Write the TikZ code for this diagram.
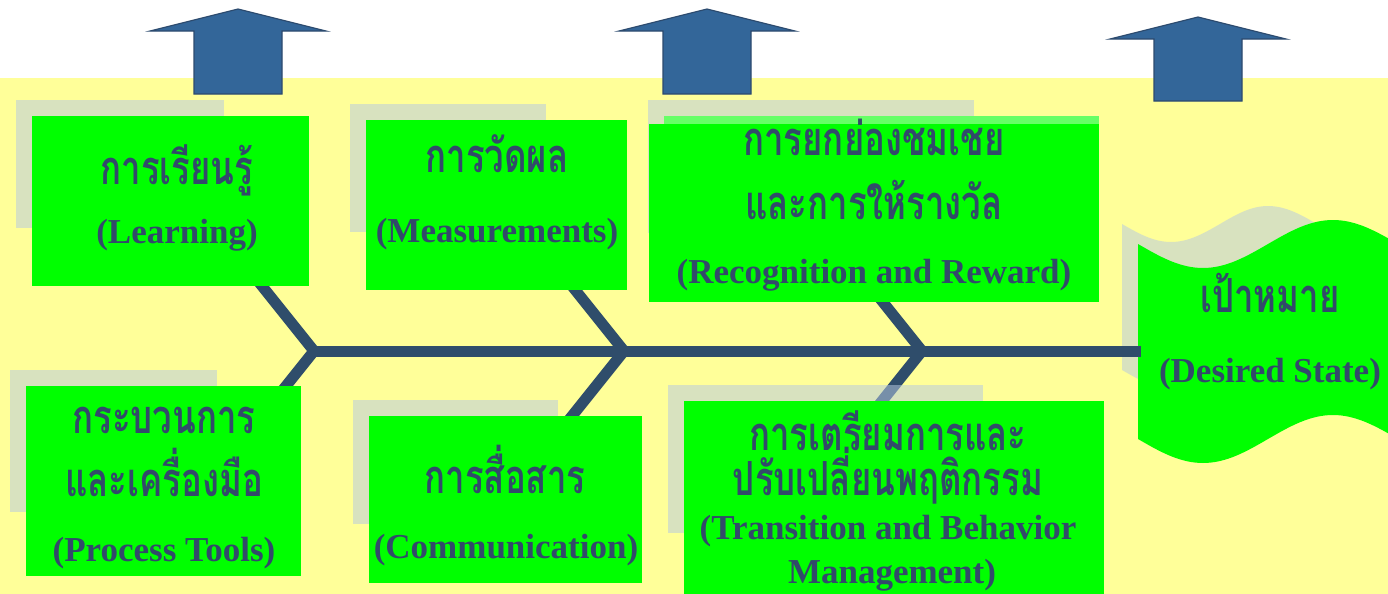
\documentclass[tikz,border=0pt]{standalone}
\usepackage{fontspec}
\setmainfont{Liberation Serif}
\newfontfamily\thaifont[Script=Thai, FakeStretch=0.74]{Loma}

\definecolor{bandyellow}{RGB}{255,255,153}
\definecolor{boxgreen}{RGB}{0,255,0}
\definecolor{stripgreen}{RGB}{102,255,102}
\definecolor{bonecolor}{RGB}{47,77,107}
\definecolor{labelblue}{RGB}{50,74,106}
\definecolor{arrowfill}{RGB}{51,102,153}
\definecolor{arrowline}{RGB}{44,74,110}
\definecolor{shadowgrey}{RGB}{183,202,225}

\tikzset{
    uparrow/.style={fill=arrowfill, draw=arrowline, line width=0.6pt, line join=miter},
    bone/.style={draw=bonecolor, line width=5.5pt, line join=miter},
    shadowbox/.style={fill=shadowgrey, fill opacity=0.53},
    greenbox/.style={fill=boxgreen, inner sep=0pt},
    thailabel/.style={anchor=base, inner sep=0pt, text=labelblue, font={\thaifont\bfseries\fontsize{23.5}{26}\selectfont}},
    englabel/.style={anchor=base, inner sep=0pt, text=labelblue, font={\bfseries\fontsize{17.5}{20}\selectfont}}
}

\begin{document}
\begin{tikzpicture}[x=0.5pt, y=-0.5pt]  % one unit is one pixel of the slide, y runs down
    % Background
    \useasboundingbox (0,0) rectangle (1388,594);
    \clip (0,0) rectangle (1388,594);
    \fill[white] (0,0) rectangle (1388,594);
    \fill[bandyellow] (0,78) rectangle (1388,594);  % yellow band under the arrows

    % Up arrows
    \draw[uparrow] (238,9) -- (326,31) -- (282,31) -- (282,94) -- (194,94) -- (194,31) -- (150,31) -- cycle;
    \draw[uparrow] (707,9) -- (795,31) -- (751,31) -- (751,94) -- (663,94) -- (663,31) -- (619,31) -- cycle;
    \draw[uparrow] (1198,17) -- (1286,39) -- (1242,39) -- (1242,101) -- (1154,101) -- (1154,39) -- (1110,39) -- cycle;

    % Desired state: wave shape with its shadow
    \fill[shadowbox] (1122,224) sin (1171,242) cos (1220,224) sin (1268,206) cos (1317,224)
        -- (1317,370) sin (1268,352) cos (1220,370) sin (1171,388) cos (1122,370) -- cycle;
    \fill[boxgreen] (1138,244) sin (1203,268) cos (1268,244) sin (1333,220) cos (1398,244)
        -- (1398,439) sin (1333,415) cos (1268,439) sin (1203,463) cos (1138,439) -- cycle;

    % Spine and bones
    \coordinate (v1) at (314,351);
    \coordinate (v2) at (624,351);
    \coordinate (v3) at (922,351);
    \coordinate (head) at (1141,351);
    \draw[bone] (v1) -- (head);  % main spine into the goal
    \draw[bone] (v1) ++(-72,-90) -- (v1) -- ++(-72,90);
    \draw[bone] (v2) ++(-72,-90) -- (v2) -- ++(-72,90);
    \draw[bone] (v3) ++(-72,-90) -- (v3) -- ++(-72,90);

    % Shadows behind the boxes
    \fill[shadowbox] (16,100) rectangle (224,228);
    \fill[shadowbox] (350,104) rectangle (546,232);
    \fill[shadowbox] (648,100) rectangle (974,233);
    \fill[shadowbox] (10,370) rectangle (217,512);
    \fill[shadowbox] (353,400) rectangle (558,524);
    \fill[shadowbox] (668,385) rectangle (983,533);

    % Boxes
    \node (learn) [greenbox, minimum width=138.5pt, minimum height=85pt] at (170.5,201) {};
    \node (measure) [greenbox, minimum width=130.5pt, minimum height=85pt] at (496.5,205) {};
    \fill[stripgreen] (664,116) rectangle (1099,124);
    \node (reward) [greenbox, minimum width=225pt, minimum height=89pt] at (874,213) {};
    \node (process) [greenbox, minimum width=137.5pt, minimum height=95pt] at (163.5,481) {};
    \node (comm) [greenbox, minimum width=136.5pt, minimum height=83.5pt] at (505.5,499.5) {};
    \node (change) [greenbox, minimum width=210pt, minimum height=107pt] at (894,508) {};

    % Labels
    \node (learnTh) [thailabel] at (177,184) {การเรียนรู้};
    \node (learnEn) [englabel] at (177,243) {(Learning)};
    \node (measureTh) [thailabel] at (497,172) {การวัดผล};
    \node (measureEn) [englabel] at (497,242) {(Measurements)};
    \node (rewardTh) [thailabel] at (874,155) {การยกย่องชมเชย};
    \node (rewardThb) [thailabel] at (874,219) {และการให้รางวัล};
    \node (rewardEn) [englabel] at (874,283) {(Recognition and Reward)};
    \node (processTh) [thailabel] at (164,433) {กระบวนการ};
    \node (processThb) [thailabel] at (164,496) {และเครื่องมือ};
    \node (processEn) [englabel] at (164,561) {(Process Tools)};
    \node (commTh) [thailabel] at (505,493) {การสื่อสาร};
    \node (commEn) [englabel] at (506,558) {(Communication)};
    \node (changeTh) [thailabel] at (888,450) {การเตรียมการและ};
    \node (changeThb) [thailabel] at (888,495) {ปรับเปลี่ยนพฤติกรรม};
    \node (changeEn) [englabel] at (888,539) {(Transition and Behavior};
    \node (changeEnb) [englabel] at (892,583) {Management)};
    \node (goalTh) [thailabel] at (1270,312) {เป้าหมาย};
    \node (goalEn) [englabel] at (1270,382) {(Desired State)};
\end{tikzpicture}
\end{document}
